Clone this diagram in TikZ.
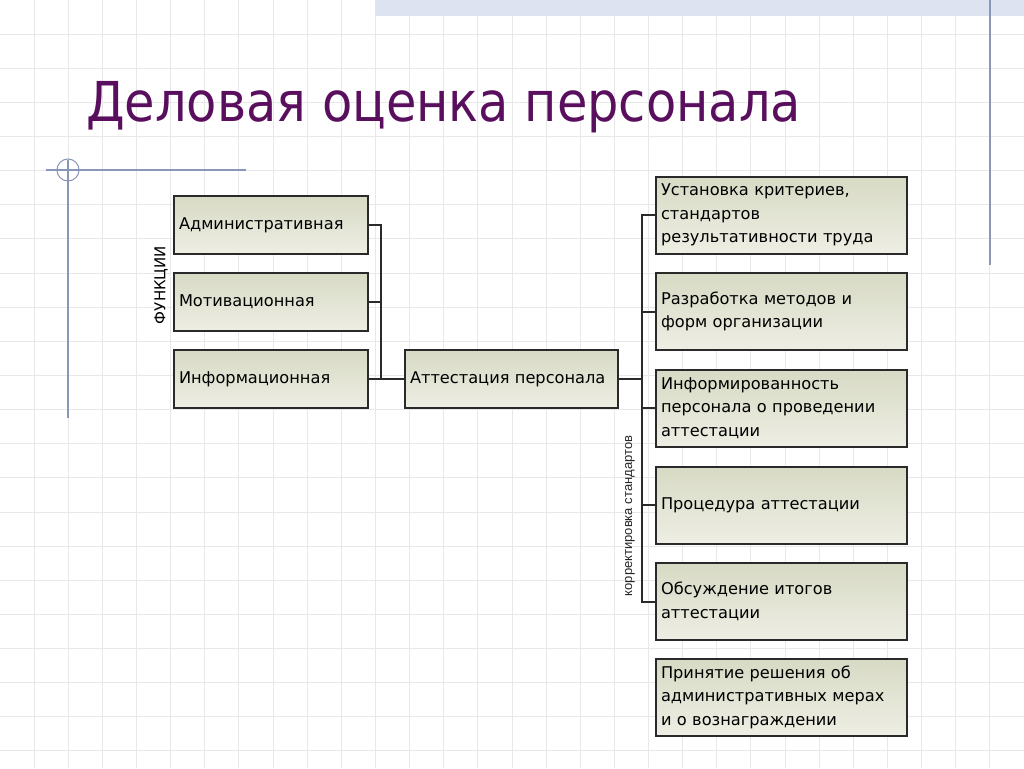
\documentclass[tikz,border=0pt]{standalone}
\usepackage{fontspec}
\setmainfont{DejaVu Sans}
\newfontfamily\titlefont{DejaVu Sans Condensed}
\newfontfamily\arialfont{Liberation Sans}
\definecolor{gridc}{HTML}{E8E8E8}
\definecolor{bandc}{HTML}{DDE3F1}
\definecolor{decoc}{HTML}{8A96B8}
\definecolor{titlec}{HTML}{5A0F5E}
\definecolor{boxtop}{HTML}{D7DAC4}
\definecolor{boxbot}{HTML}{EEEEE4}
\definecolor{edgec}{HTML}{2A2A2A}
\tikzset{
  box/.style={draw=edgec, line width=2pt, top color=boxtop, bottom color=boxbot,
    rectangle, inner xsep=5pt, inner ysep=0pt, align=left,
    font=\fontsize{16.2}{23.5}\selectfont},
  lbox/.style={box, minimum width=194pt, minimum height=58pt, text width=184pt},
  rbox/.style={box, minimum width=251pt, minimum height=77pt, text width=241pt},
  conn/.style={draw=edgec, line width=2pt},
}
\begin{document}
\begin{tikzpicture}[x=1pt,y=-1pt]
\fill[white] (0,0) rectangle (1024,768);
\useasboundingbox (0,0) rectangle (1024,768);
% grid
\foreach \i in {1,...,29} \draw[gridc, line width=0.9pt] (\i*34.13,0) -- (\i*34.13,768);
\foreach \j in {1,...,22} \draw[gridc, line width=0.9pt] (0,\j*34.13) -- (1024,\j*34.13);
% decorations
\fill[bandc] (375,0) rectangle (1024,16);
\draw[decoc, line width=1.2pt] (990,0) -- (990,265);
\draw[decoc, line width=1.2pt] (46,170) -- (246,170);
\draw[decoc, line width=1.2pt] (68,160) -- (68,418);
\draw[decoc, line width=1pt] (68,170) circle (11);
% title
\node[anchor=base west, inner sep=0pt, text=titlec, font=\titlefont\fontsize{55}{60}\selectfont] (title) at (86,121) {Деловая оценка персонала};
% left boxes
\node[lbox] (L1) at (271,225) {Административная};
\node[lbox] (L2) at (271,302) {Мотивационная};
\node[lbox] (L3) at (271,379) {Информационная};
\node[box, minimum width=213pt, minimum height=58pt, text width=203pt] (C) at (511.5,379) {Аттестация персонала};
% right boxes
\node[rbox] (R1) at (781.5,215) {Установка критериев,\\стандартов\\результативности труда};
\node[rbox] (R2) at (781.5,311.5) {Разработка методов и\\форм организации};
\node[rbox] (R3) at (781.5,408) {Информированность\\персонала о проведении\\аттестации};
\node[rbox] (R4) at (781.5,505) {Процедура аттестации};
\node[rbox] (R5) at (781.5,601.5) {Обсуждение итогов\\аттестации};
\node[rbox] (R6) at (781.5,697) {Принятие решения об\\административных мерах\\и о вознаграждении};
% labels
\node[rotate=90, inner sep=0pt, font=\fontsize{15}{15}\selectfont] (fn) at (161,285) {ФУНКЦИИ};
\node[rotate=90, inner sep=0pt, text=black!85, font=\arialfont\fontsize{13}{13}\selectfont] (kor) at (630,516) {корректировка стандартов};
% connectors
\coordinate (jl) at (381,379);
\coordinate (jr) at (642,379);
\draw[conn] (L1.east) -| (jl);
\draw[conn] (L2.east) -- (L2.east -| jl);
\draw[conn] (L3.east) -- (C.west);
\draw[conn] (C.east) -- (jr);
\draw[conn] (R1.west) -| (R5.west -| jr) -- (R5.west);
\draw[conn] (R2.west) -- (R2.west -| jr);
\draw[conn] (R3.west) -- (R3.west -| jr);
\draw[conn] (R4.west) -- (R4.west -| jr);
\end{tikzpicture}
\end{document}
